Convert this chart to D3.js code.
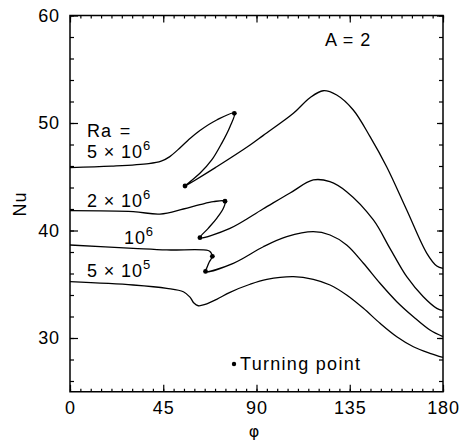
<!doctype html>
<html lang="en">
<head>
<meta charset="utf-8">
<script src="https://d3js.org/d3.v7.min.js"></script>
<style>
  body { margin: 0; background: #fff; }
  text { font-family: "Liberation Sans", Arial, sans-serif; fill: #000; }
  .lbl { font-size: 18px; letter-spacing: 0.9px; }
</style>
</head>
<body>
<svg width="461" height="440"></svg>
<script>
// phi (deg), Nu
var ra5e6 = [[0,45.84],[20,45.98],[38,46.22],[44,46.45],[48,46.85],[52,47.5],[57,48.4],[62.7,49.3],[70.8,50.28],[79.3,50.9],
  [77.2,49.66],[73.2,48.11],[68.4,46.56],[62.7,45.32],[57.9,44.54],[55.5,44.14],
  [70.8,45.93],[86.9,47.95],[93.3,48.85],[107.8,50.9],[115.8,52.35],[122.2,53.0],[128.7,52.6],[136.7,51.21],
  [144.8,48.73],[152.8,45.93],[162.5,41.91],[172.2,37.88],[177,36.7],[180,36.48]];
var ra2e6 = [[0,41.84],[30.5,41.75],[43.4,41.53],[54.7,42.0],[62.7,42.4],[69.2,42.68],[74.8,42.72],
  [74.0,42.07],[70.8,41.13],[66.7,40.2],[62.7,39.33],
  [77.2,40.2],[93.1,42.0],[106.2,43.49],[117.4,44.7],[125.4,44.54],[133.5,43.61],[146.4,40.98],
  [154.4,38.34],[162.5,35.7],[170.5,33.84],[177,32.76],[180,32.54]];
var ra1e6 = [[0,38.65],[30.5,38.34],[46.7,38.19],[66.7,38.14],[68.0,37.95],[68.7,37.6],
  [67.2,37.07],[66.1,36.56],[65.4,36.19],
  [78.8,36.95],[93.3,38.49],[104.6,39.42],[117.4,39.89],[125.5,39.58],[133.5,38.65],[141.6,36.95],
  [149.6,35.09],[157.7,33.38],[165.7,31.98],[173.7,30.74],[180,30.12]];
var ra5e5 = [[0,35.24],[30.5,34.93],[46.7,34.62],[54.7,34.3],[57.9,33.8],[59.8,33.25],[61.9,33.0],
  [65.2,33.12],[70.8,33.6],[77.2,34.25],[86.9,35.0],[95,35.45],[107.8,35.7],[117.4,35.46],[125.5,34.93],
  [133.5,34.0],[141.6,32.76],[149.6,31.37],[157.7,30.12],[165.7,29.19],[173.7,28.58],[180,28.2]];
var turning = [[79.3,50.9],[55.5,44.14],[74.8,42.72],[62.7,39.33],[68.7,37.6],[65.4,36.19]];
var xMajor = [0,45,90,135,180];
var yMajor = [30,40,50,60];

var svg = d3.select("svg");
var x = d3.scaleLinear().domain([0,180]).range([70,443]);
var y = d3.scaleLinear().domain([25,60]).range([391.75,15.5]);

// minor + major ticks, all pointing inward
function ticks(g) { g.select(".domain").remove(); g.selectAll("line").attr("stroke","#000").attr("stroke-width",1.2); }
svg.append("g").attr("transform","translate(0,391.75)")
  .call(d3.axisBottom(x).tickValues(d3.range(0,181,5)).tickSize(-3).tickFormat("")).call(ticks);
svg.append("g").attr("transform","translate(0,391.75)")
  .call(d3.axisBottom(x).tickValues(xMajor).tickSize(-7).tickPadding(9)).call(ticks)
  .selectAll("text").attr("class","lbl").style("font-size","18px");
svg.append("g").attr("transform","translate(0,15.5)")
  .call(d3.axisTop(x).tickValues(d3.range(0,181,5)).tickSize(-3).tickFormat("")).call(ticks);
svg.append("g").attr("transform","translate(0,15.5)")
  .call(d3.axisTop(x).tickValues(xMajor).tickSize(-7).tickFormat("")).call(ticks);
svg.append("g").attr("transform","translate(70,0)")
  .call(d3.axisLeft(y).tickValues(d3.range(26,61,2)).tickSize(-4).tickFormat("")).call(ticks);
svg.append("g").attr("transform","translate(70,0)")
  .call(d3.axisLeft(y).tickValues(yMajor).tickSize(-8).tickPadding(10)).call(ticks)
  .selectAll("text").attr("class","lbl").style("font-size","18px");
svg.append("g").attr("transform","translate(443,0)")
  .call(d3.axisRight(y).tickValues(d3.range(26,61,2)).tickSize(-4).tickFormat("")).call(ticks);
svg.append("g").attr("transform","translate(443,0)")
  .call(d3.axisRight(y).tickValues(yMajor).tickSize(-6).tickFormat("")).call(ticks);

svg.append("rect").attr("x",x(0)).attr("y",y(60)).attr("width",x(180)-x(0)).attr("height",y(25)-y(60))
  .attr("fill","none").attr("stroke","#000").attr("stroke-width",1.5);

var line = d3.line().x(function(d){return x(d[0]);}).y(function(d){return y(d[1]);})
  .curve(d3.curveCatmullRom.alpha(0.5));
[ra5e6, ra2e6, ra1e6, ra5e5].forEach(function(s) {
  svg.append("path").attr("d", line(s)).attr("fill","none").attr("stroke","#000").attr("stroke-width",1.3);
});
svg.selectAll("circle.tp").data(turning).enter().append("circle").attr("class","tp")
  .attr("cx",function(d){return x(d[0]);}).attr("cy",function(d){return y(d[1]);}).attr("r",2.4).attr("fill","#000");

// labels
function sci(xp, yp, pre, exp) {
  var t = svg.append("text").attr("class","lbl").attr("x",xp).attr("y",yp);
  t.append("tspan").text(pre);
  t.append("tspan").attr("dy",-8).style("font-size","13px").text(exp);
}
svg.append("text").attr("class","lbl").attr("x",87).attr("y",137).style("word-spacing","2px").text("Ra =");
sci(87, 158, "5 \u00d7 10", "6");
sci(87, 207, "2 \u00d7 10", "6");
sci(124, 244, "10", "6");
sci(87, 277, "5 \u00d7 10", "5");
svg.append("text").attr("class","lbl").attr("x",325).attr("y",46).text("A = 2");
svg.append("circle").attr("cx",234).attr("cy",364).attr("r",2.2).attr("fill","#000");
svg.append("text").attr("class","lbl").attr("x",240).attr("y",370).style("letter-spacing","1.3px").text("Turning point");
svg.append("text").attr("x",254).attr("y",437).attr("text-anchor","middle")
  .style("font-family","'DejaVu Sans', sans-serif").style("font-size","16px").text("\u03c6");
svg.append("text").attr("class","lbl").attr("transform","translate(26,204) rotate(-90)")
  .attr("text-anchor","middle").text("Nu");
</script>
</body>
</html>
